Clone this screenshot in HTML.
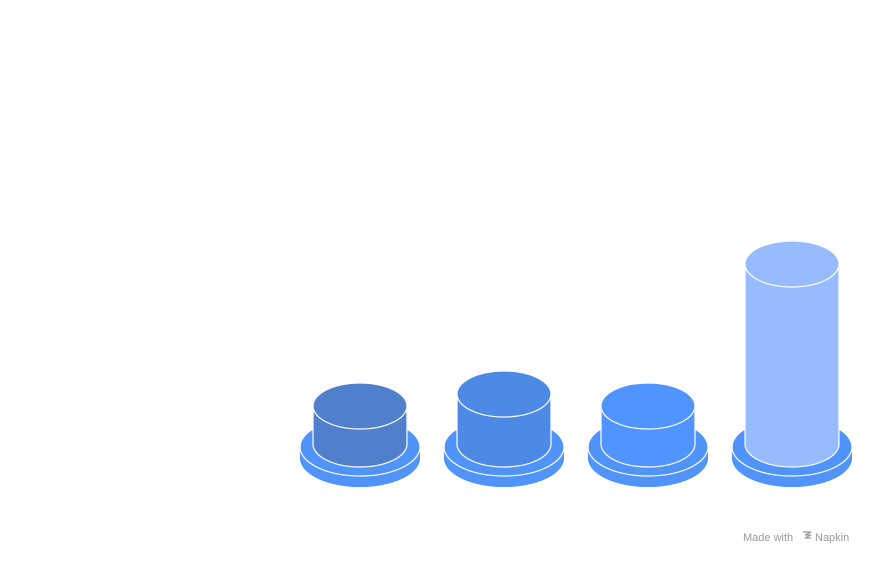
<!DOCTYPE html>
<html><head><meta charset="utf-8"><style>body{margin:0;background:#fff}svg{display:block}</style></head><body>
<svg width="876" height="564" viewBox="0 0 876 564" xmlns="http://www.w3.org/2000/svg">
<defs>
<g id="base">
<path d="M-60,447 L-60,458 A60,29 0 0 0 60,458 L60,447 Z" fill="#4f93fb"/>
<ellipse cx="0" cy="458" rx="60" ry="29" fill="#4f93fb"/>
<ellipse cx="0" cy="447" rx="60" ry="29" fill="#4f93fb" stroke="#fff" stroke-width="1.2"/>
</g>
</defs>
<g transform="translate(360,0)"><use href="#base"/>
<path d="M-47,406 L-47,444 A47,23 0 0 0 47,444 L47,406 Z" fill="#5080cc" stroke="#fff" stroke-width="1.2"/>
<ellipse cx="0" cy="406" rx="47" ry="23" fill="#5080cc" stroke="#fff" stroke-width="1.2"/></g>
<g transform="translate(504,0)"><use href="#base"/>
<path d="M-47,394 L-47,444 A47,23 0 0 0 47,444 L47,394 Z" fill="#4d8ae6" stroke="#fff" stroke-width="1.2"/>
<ellipse cx="0" cy="394" rx="47" ry="23" fill="#4d8ae6" stroke="#fff" stroke-width="1.2"/></g>
<g transform="translate(648,0)"><use href="#base"/>
<path d="M-47,406 L-47,444 A47,23 0 0 0 47,444 L47,406 Z" fill="#5094ff" stroke="#fff" stroke-width="1.2"/>
<ellipse cx="0" cy="406" rx="47" ry="23" fill="#5094ff" stroke="#fff" stroke-width="1.2"/></g>
<g transform="translate(792,0)"><use href="#base"/>
<path d="M-47,264 L-47,444 A47,23 0 0 0 47,444 L47,264 Z" fill="#96bcff" stroke="#fff" stroke-width="1.2"/>
<ellipse cx="0" cy="264" rx="47" ry="23" fill="#96bcff" stroke="#fff" stroke-width="1.2"/></g>
<text x="743" y="541" font-family="Liberation Sans, sans-serif" font-size="11" fill="#999">Made with</text>
<path d="M803,532 h8 l-6,3 h6 l-6,3 h6" fill="none" stroke="#999" stroke-width="1.2"/>
<text x="815" y="541" font-family="Liberation Sans, sans-serif" font-size="11" fill="#999">Napkin</text>
</svg>
</body></html>
